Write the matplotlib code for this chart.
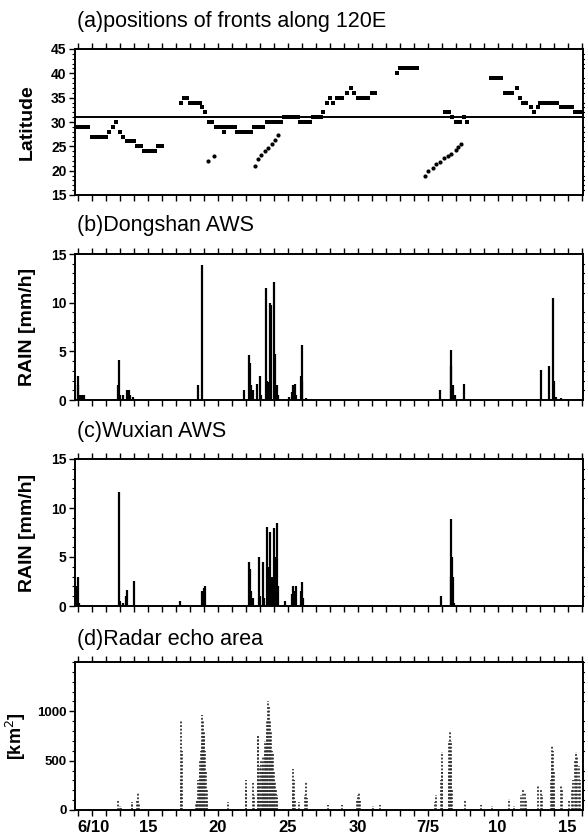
import matplotlib
matplotlib.use("Agg")
import matplotlib.pyplot as plt
from matplotlib.ticker import MultipleLocator, FixedLocator

plt.rcParams['font.family'] = ['Liberation Sans', 'DejaVu Sans']

# ---------------- data ----------------
# (a) front latitude along 120E, time in days since June 0 (June 10 = 10, July 5 = 35)
front_days = [10.0, 10.25, 10.5, 10.75, 11.0, 11.25, 11.5, 11.75, 12.0, 12.25, 12.5, 12.75,
              13.0, 13.25, 13.5, 13.75, 14.0, 14.25, 14.5, 14.75, 15.0, 15.25, 15.5, 15.75, 16.0,
              17.4, 17.6, 17.8, 18.05, 18.25, 18.5, 18.7, 18.9, 19.1, 19.4, 19.6, 19.9, 20.1, 20.3,
              20.45, 20.6, 20.8, 21.0, 21.2, 21.4, 21.6, 21.8, 22.0, 22.2, 22.4,
              22.6, 22.8, 23.0, 23.2, 23.5, 23.7, 23.9, 24.1, 24.3, 24.5,
              24.75, 25.0, 25.25, 25.5, 25.7, 25.9, 26.1, 26.35, 26.6, 26.8, 27.0, 27.2, 27.4,
              27.55, 27.8, 28.0, 28.25, 28.5, 28.7, 28.9, 29.25, 29.5, 29.75, 30.0, 30.25, 30.5, 30.75,
              31.0, 31.25, 32.8, 33.0, 33.25, 33.5, 33.75, 34.0, 34.25,
              36.25, 36.5, 36.75, 37.05, 37.3, 37.6, 37.8,
              39.5, 39.75, 40.0, 40.25, 40.5, 40.75, 41.0, 41.4, 41.6, 41.8, 42.05, 42.35, 42.6, 42.85,
              43.0, 43.25, 43.5, 43.75, 44.0, 44.25, 44.55, 44.8, 45.05, 45.3, 45.55, 45.8, 46.05]
front_lat = [29, 29, 29, 29, 27, 27, 27, 27, 27, 28, 29, 30,
             28, 27, 26, 26, 26, 25, 25, 24, 24, 24, 24, 25, 25,
             34, 35, 35, 34, 34, 34, 34, 33, 32, 30, 30, 29, 29, 29,
             28, 29, 29, 29, 29, 28, 28, 28, 28, 28, 28,
             29, 29, 29, 29, 30, 30, 30, 30, 30, 30,
             31, 31, 31, 31, 31, 30, 30, 30, 30, 31, 31, 31, 31,
             32, 34, 35, 34, 35, 35, 35, 36, 37, 36, 35, 35, 35, 35,
             36, 36, 40, 41, 41, 41, 41, 41, 41,
             32, 32, 31, 30, 30, 31, 30,
             39, 39, 39, 39, 36, 36, 36, 37, 35, 34, 34, 33, 32, 33,
             34, 34, 34, 34, 34, 34, 33, 33, 33, 33, 32, 32, 32]
# southern (secondary) front positions
south_days = [19.3, 19.7, 22.65, 22.9, 23.1, 23.35, 23.6, 23.85, 24.1, 24.3,
              34.8, 35.0, 35.4, 35.6, 35.85, 36.2, 36.45, 36.7, 37.0, 37.2, 37.4]
south_lat = [22, 23, 21, 22.3, 23.3, 24, 24.7, 25.4, 26.4, 27.3,
             18.9, 20.0, 20.6, 21.3, 21.8, 22.6, 23.1, 23.5, 24.2, 24.8, 25.4]
ref_lat = 31

# (b) Dongshan AWS hourly rain [mm/h]
rain_b_t = [10.0, 10.05, 10.15, 10.3, 10.45, 12.9, 12.95, 13.05, 13.2, 13.55, 13.65, 13.75, 13.95,
            18.6, 18.9, 21.9, 22.25, 22.32, 22.4, 22.5, 22.8, 23.0, 23.1, 23.45, 23.55, 23.62,
            23.75, 23.82, 24.05, 24.12, 24.2, 24.3, 25.1, 25.3, 25.4, 25.5, 25.6, 25.95, 26.0, 26.05,
            26.3, 35.9, 36.65, 36.7, 36.8, 36.95, 37.6, 43.1, 43.7, 43.95, 44.05, 44.2, 44.5]
rain_b_v = [2.5, 1.5, 0.5, 0.5, 0.5, 1.5, 4.1, 0.5, 0.5, 1.0, 1.0, 0.5, 0.3,
            1.5, 13.9, 1.0, 4.6, 3.8, 1.5, 1.0, 1.6, 2.5, 0.5, 11.5, 2.0, 1.8,
            10.0, 9.8, 12.1, 4.7, 1.5, 0.5, 0.3, 0.8, 1.5, 1.6, 0.5, 2.5, 5.6, 2.0,
            0.2, 1.0, 5.1, 3.5, 1.5, 0.5, 1.6, 3.1, 3.5, 10.5, 2.0, 0.3, 0.2]

# (c) Wuxian AWS hourly rain [mm/h]
rain_c_t = [9.95, 10.0, 10.1, 12.95, 13.0, 13.2, 13.45, 13.5, 14.05, 17.3, 18.9, 19.0, 19.1,
            22.25, 22.3, 22.4, 22.5, 22.95, 23.05, 23.2, 23.3, 23.55, 23.6, 23.75, 23.85,
            24.0, 24.1, 24.2, 24.3, 24.8, 25.3, 25.4, 25.5, 25.6, 25.95, 26.0, 26.1,
            35.95, 36.65, 36.7, 36.75, 36.8, 36.9]
rain_c_v = [2.0, 3.0, 0.3, 11.6, 0.5, 0.3, 1.0, 1.6, 2.55, 0.5, 1.5, 1.8, 2.0,
            4.5, 3.8, 1.5, 0.8, 5.0, 1.0, 4.5, 0.8, 8.1, 4.0, 7.6, 3.0,
            8.0, 5.0, 8.5, 2.0, 0.5, 1.2, 2.0, 1.5, 2.0, 1.5, 2.5, 0.8,
            1.0, 3.0, 8.9, 5.0, 3.0, 0.3]

# (d) radar echo area [km^2]
radar_t = [12.9, 13.0, 13.1, 13.85, 13.9, 14.25, 14.3, 14.35, 17.35, 17.4, 17.45,
           18.45, 18.5, 18.55, 18.6, 18.65, 18.7, 18.75, 18.8, 18.85, 18.9, 18.95, 19.0, 19.05,
           19.1, 19.15, 19.2, 19.25, 20.75, 22.0, 22.05, 22.55, 22.6, 22.85, 22.9, 22.95,
           23.05, 23.1, 23.15, 23.2, 23.25, 23.3, 23.35, 23.4, 23.45, 23.5, 23.55, 23.6, 23.65,
           23.7, 23.75, 23.8, 23.85, 23.9, 23.95, 24.0, 24.05, 24.1, 24.15, 24.2, 24.25,
           25.35, 25.4, 25.45, 25.5, 25.8, 26.25, 26.3, 26.35, 27.9, 28.9, 29.95, 30.05, 30.1,
           30.15, 31.1, 31.6, 35.55, 35.6, 35.95, 36.0, 36.05, 36.5, 36.55, 36.6, 36.65, 36.7,
           36.75, 37.7, 38.8, 39.6, 40.8, 41.2, 41.7, 41.8, 41.95, 42.05, 42.85, 43.1, 43.2,
           43.8, 43.85, 43.9, 43.95, 44.0, 44.05, 44.55, 44.6, 45.1, 45.3, 45.4, 45.5, 45.6,
           45.7, 45.8, 45.9]
radar_v = [100, 40, 20, 60, 85, 90, 170, 60, 300, 900, 600,
           60, 100, 90, 300, 250, 400, 500, 600, 700, 960, 900, 800, 750,
           600, 400, 200, 80, 80, 300, 200, 270, 150, 740, 760, 300,
           450, 500, 400, 480, 550, 400, 600, 700, 650, 800, 900, 1100, 1050,
           900, 700, 800, 600, 500, 580, 400, 300, 280, 200, 150, 100,
           200, 420, 300, 100, 80, 150, 280, 120, 50, 55, 100, 150, 185,
           100, 40, 50, 80, 150, 300, 590, 400, 400, 700, 795, 700, 500,
           200, 100, 50, 40, 110, 40, 150, 200, 180, 100, 240, 210, 150,
           300, 500, 660, 600, 400, 200, 240, 200, 90, 200, 300, 500, 590,
           550, 450, 300]

day_ticks = [10, 15, 20, 25, 30, 35, 40, 45]
day_labels = ['6/10', '15', '20', '25', '30', '7/5', '10', '15']

titles = ['(a)positions of fronts along 120E', '(b)Dongshan AWS',
          '(c)Wuxian AWS', '(d)Radar echo area']

# ---------------- figure ----------------
W, H = 585, 836
fig = plt.figure(figsize=(W / 100, H / 100), dpi=100)

def frac(left, top, right, bottom):
    return [left / W, 1 - bottom / H, (right - left) / W, (bottom - top) / H]

boxes = [frac(75, 49, 583, 195), frac(75, 254, 583, 400),
         frac(75, 459, 583, 606), frac(75, 662, 583, 810)]
title_y = [22, 226, 432, 640]

axes = [fig.add_axes(b) for b in boxes]
xlim = (9.8, 46.1)

for i, ax in enumerate(axes):
    ax.set_xlim(*xlim)
    for s in ax.spines.values():
        s.set_linewidth(1.4)
    ax.xaxis.set_major_locator(FixedLocator(day_ticks))
    ax.xaxis.set_minor_locator(MultipleLocator(1))
    ax.tick_params(axis='x', which='both', top=True, bottom=True, direction='out',
                   length=4, width=1.0)
    ax.tick_params(axis='y', which='major', left=True, right=False, direction='out',
                   length=4, width=1.0, labelsize=10, pad=2)
    ax.tick_params(axis='y', which='minor', left=True, right=True, direction='out',
                   length=2, width=0.8)
    if i < 3:
        ax.set_xticklabels([])
    else:
        ax.set_xticklabels(day_labels, fontsize=12, fontweight='bold')
        ax.get_xticklabels()[0].set_horizontalalignment('left')
        ax.tick_params(axis='x', pad=3)
    for lab in ax.get_yticklabels():
        lab.set_fontweight('bold')
    fig.text(77 / W, 1 - title_y[i] / H, titles[i], fontsize=15.5,
             ha='left', va='center')

# (a)
ax = axes[0]
ax.set_ylim(15, 45)
ax.yaxis.set_major_locator(MultipleLocator(5))
ax.yaxis.set_minor_locator(MultipleLocator(1))
ax.axhline(ref_lat, color='black', lw=1.4)
ax.plot(front_days, front_lat, 's', color='black', ms=2.6, mew=0)
ax.plot(south_days, south_lat, 'o', color='black', ms=3.0, mew=0)
ax.set_ylabel('Latitude', fontsize=14, fontweight='bold')
ax.yaxis.set_label_coords(-0.077, 0.5)

# (b), (c)
for ax, t, v in [(axes[1], rain_b_t, rain_b_v), (axes[2], rain_c_t, rain_c_v)]:
    ax.set_ylim(0, 15)
    ax.yaxis.set_major_locator(MultipleLocator(5))
    ax.yaxis.set_minor_locator(MultipleLocator(1))
    ax.vlines(t, 0, v, colors='black', lw=1.6)
    ax.set_ylabel('RAIN [mm/h]', fontsize=14, fontweight='bold')
    ax.yaxis.set_label_coords(-0.077, 0.5)

# (d)
ax = axes[3]
ax.set_ylim(0, 1500)
ax.yaxis.set_major_locator(FixedLocator([0, 500, 1000]))
ax.yaxis.set_minor_locator(MultipleLocator(100))
ax.vlines(radar_t, 0, radar_v, colors='0.2', lw=1.3, linestyles=(0, (1, 1)))
ax.set_ylabel('[km$^2$]', fontsize=13, fontweight='bold')
ax.yaxis.set_label_coords(-0.092, 0.5)
ax.tick_params(axis='y', labelsize=9.5)
for lab in ax.get_yticklabels():
    lab.set_fontweight('bold')

fig.savefig('out.png', dpi=100)
